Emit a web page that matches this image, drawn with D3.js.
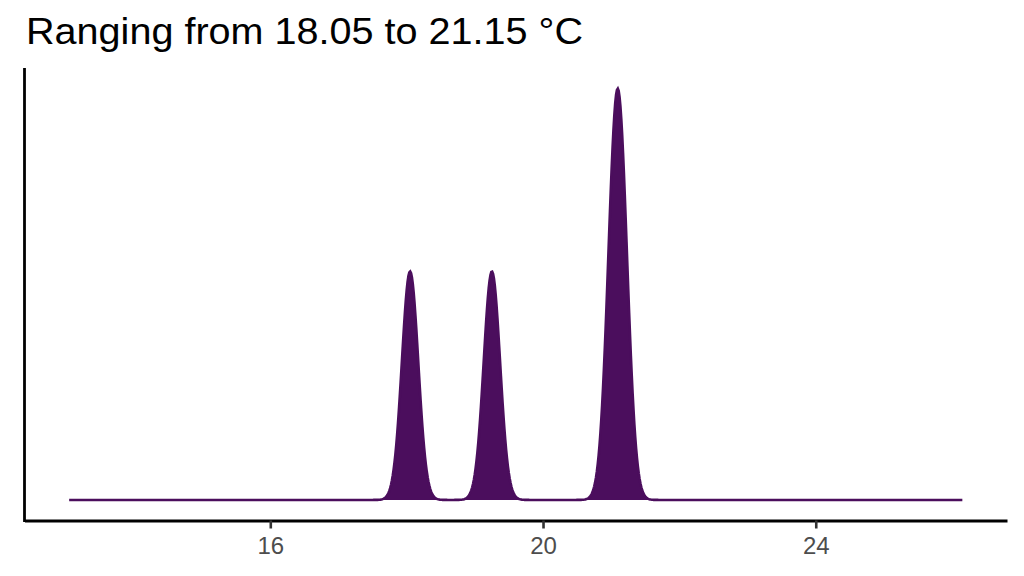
<!DOCTYPE html>
<html>
<head>
<meta charset="utf-8">
<script src="https://cdn.jsdelivr.net/npm/d3@7"></script>
<style>
  body { margin: 0; background: #fff; }
  svg { display: block; font-family: "Liberation Sans", Arial, sans-serif; }
</style>
</head>
<body>
<div class="chart"></div>
<script>
// observed temperatures (°C) and the kernel bandwidth used for the density
var temps = [18.05, 19.25, 21.04, 21.15];
var bandwidth = 0.12;
// density is evaluated from 5 °C below the minimum to 5 °C above the maximum
var xExtent = [13.05, 26.15];
var xTicks = [16, 20, 24];
var title = "Ranging from 18.05 to 21.15 °C";

var width = 1024, height = 576;
var margin = {top: 68, right: 17, bottom: 55.5, left: 24.5};

var svg = d3.select(".chart").append("svg")
    .attr("width", width)
    .attr("height", height);

// gaussian kernel density estimate on a grid
function kde(values, bw, grid) {
  return grid.map(function(x) {
    var s = d3.sum(values, function(v) {
      var z = (x - v) / bw;
      return Math.exp(-0.5 * z * z);
    });
    return [x, s / (values.length * bw * Math.sqrt(2 * Math.PI))];
  });
}

var grid = d3.range(0, 1025).map(function(i) {
  return xExtent[0] + (xExtent[1] - xExtent[0]) * i / 1024;
});
var dens = kde(temps, bandwidth, grid);
var yMax = d3.max(dens, function(d) { return d[1]; });

// ggplot style 5% expansion on both axes
var xPad = (xExtent[1] - xExtent[0]) * 0.05;
var x = d3.scaleLinear()
    .domain([xExtent[0] - xPad, xExtent[1] + xPad])
    .range([margin.left, width - margin.right]);
var y = d3.scaleLinear()
    .domain([-yMax * 0.05, yMax * 1.05])
    .range([height - margin.bottom, margin.top]);

var area = d3.area()
    .x(function(d) { return x(d[0]); })
    .y0(y(0))
    .y1(function(d) { return y(d[1]); });
var line = d3.line()
    .x(function(d) { return x(d[0]); })
    .y(function(d) { return y(d[1]); });

svg.append("path")
    .datum(dens)
    .attr("d", area)
    .attr("fill", "#4b0e5d");

svg.append("path")
    .datum(dens)
    .attr("d", line)
    .attr("fill", "none")
    .attr("stroke", "#4b0e5d")
    .attr("stroke-width", 2.6);

// x axis
var xAxis = svg.append("g")
    .attr("transform", "translate(0," + (height - margin.bottom) + ")")
    .call(d3.axisBottom(x).tickValues(xTicks).tickSize(8).tickSizeOuter(0)
      .tickPadding(6).tickFormat(d3.format("d")));
xAxis.select(".domain").attr("stroke", "#000").attr("stroke-width", 2.8);
xAxis.selectAll(".tick line").attr("stroke", "#333").attr("stroke-width", 2.6);
xAxis.selectAll(".tick text")
    .attr("fill", "#4d4d4d")
    .attr("dy", null)
    .attr("y", 33)
    .style("font-size", "24px")
    .style("font-family", "Liberation Sans, Arial, sans-serif");

// y axis line only
svg.append("line")
    .attr("x1", margin.left).attr("x2", margin.left)
    .attr("y1", margin.top).attr("y2", height - margin.bottom + 1.4)
    .attr("stroke", "#000")
    .attr("stroke-width", 2.8);

svg.append("text")
    .attr("x", 26)
    .attr("y", 44)
    .attr("fill", "#000")
    .attr("textLength", 557)
    .attr("lengthAdjust", "spacingAndGlyphs")
    .style("font-size", "37px")
    .text(title);
</script>
</body>
</html>
